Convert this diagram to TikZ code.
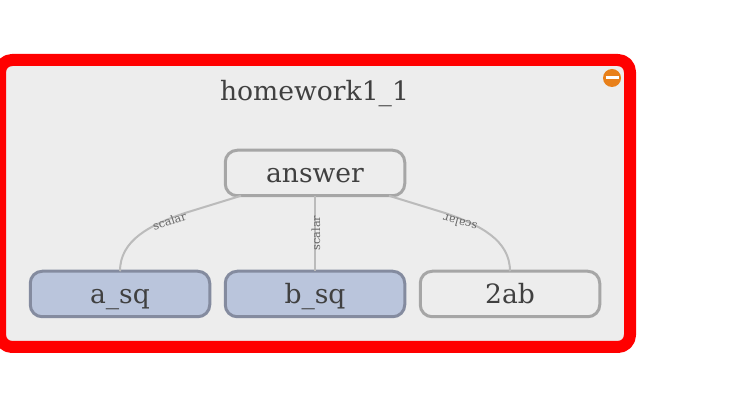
\documentclass[tikz,border=0pt]{standalone}
\usepackage{fontspec}
\setmainfont{DejaVu Serif}
\usetikzlibrary{positioning}
\definecolor{panelgray}{HTML}{EDEDED}
\definecolor{opblue}{HTML}{BAC5DC}
\definecolor{opedge}{HTML}{848B9F}
\definecolor{plainedge}{HTML}{A6A6A6}
\definecolor{inkgray}{HTML}{404040}
\definecolor{wiregray}{HTML}{BBBBBB}
\definecolor{knoborange}{HTML}{E8801A}
\tikzset{
  opnode/.style={draw=plainedge,line width=3bp,rounded corners=12bp,outer sep=0pt,minimum width=179.5bp,minimum height=45.5bp,inner sep=0pt,text=inkgray,text height=19.5bp,text depth=0bp,font=\fontsize{26.6bp}{30bp}\selectfont},
  inputnode/.style={opnode,draw=opedge,fill=opblue},
  wire/.style={draw=wiregray,line width=2bp},
  wirelabel/.style={text=black!60,inner sep=0pt,font=\fontsize{11.3bp}{13bp}\selectfont},
}

\begin{document}
\begin{tikzpicture}[>=latex,line join=bevel,]
\useasboundingbox (0bp,0bp) rectangle (749bp,406bp);
%%
\draw [draw=red,fill=panelgray,line width=12bp,rounded corners=12bp] (0bp,346bp) rectangle (630bp,59bp);
\node (node_title) at (314.5bp,312.5bp) [text=inkgray,inner sep=0pt,font=\fontsize{26.6bp}{30bp}\selectfont] {homework1\_1};
  \node (node_answer) at (315bp,233bp) [opnode] {answer};
  \node (node_a_sq) at (120bp,112bp) [inputnode] {a\_sq};
  \node (node_b_sq) at (315bp,112bp) [inputnode] {b\_sq};
  \node (node_2ab) at (510bp,112bp) [opnode] {2ab};
%
\coordinate (bend_a) at (185bp,193bp);
\coordinate (bend_c) at (445bp,193bp);
\draw [wire] (node_answer) -- (bend_a) ..controls (150bp,181bp) and (120bp,166bp)  .. (node_a_sq.north);
  \draw [wire] (node_answer.south) -- (node_b_sq.north);
  \draw [wire] (node_answer) -- (bend_c) ..controls (480bp,181bp) and (510bp,166bp)  .. (node_2ab.north);
%
\node (label_a) at (169.5bp,185bp) [wirelabel,rotate=18] {scalar};
  \node (label_b) at (316bp,173bp) [wirelabel,rotate=90] {scalar};
  \node (label_c) at (460bp,183bp) [wirelabel,rotate=165] {scalar};
%
\node (node_knob) at (612bp,328bp) [circle,fill=knoborange,minimum size=18bp,inner sep=0pt] {};
  \draw [draw=white,line width=3bp] ([xshift=-6.5bp]node_knob.center) -- ([xshift=6.5bp]node_knob.center);
%
\end{tikzpicture}
\end{document}
